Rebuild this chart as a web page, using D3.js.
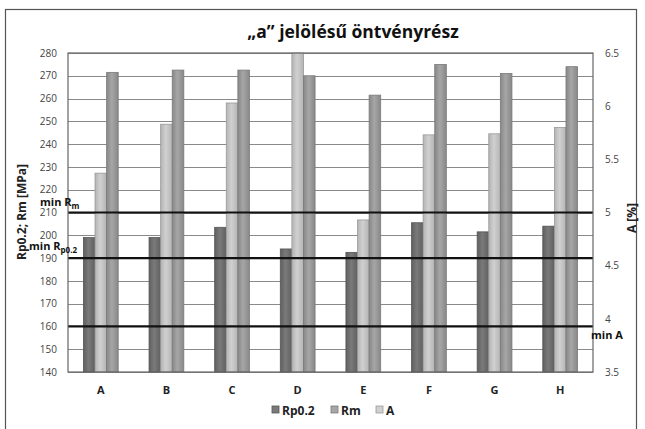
<!DOCTYPE html>
<html>
<head>
<meta charset="utf-8">
<script src="https://cdn.jsdelivr.net/npm/d3@7"></script>
<style>
  body { margin: 0; background: #fff; }
  text { font-family: "Open Sans", "Liberation Sans", sans-serif; }
</style>
</head>
<body>
<div id="chart"></div>
<script>
/* data */
var categories = ["A", "B", "C", "D", "E", "F", "G", "H"];
var rp02 = [199, 199, 203.5, 194, 192.5, 205.5, 201.5, 204];
var rm = [271.5, 272.5, 272.5, 270, 261.5, 275, 271, 274];
var aPct = [5.37, 5.83, 6.03, 6.5, 4.93, 5.73, 5.74, 5.8];
var leftTicks = [140, 150, 160, 170, 180, 190, 200, 210, 220, 230, 240, 250, 260, 270, 280];
var rightTicks = [3.5, 4, 4.5, 5, 5.5, 6, 6.5];
var seriesNames = ["Rp0.2", "Rm", "A"];
var minRm = 210, minRp = 190, minA = 160; // limit lines, on left axis

var width = 645, height = 429;
var m = {left: 68, right: 593, top: 53, bottom: 372};

var svg = d3.select("#chart").append("svg")
    .attr("width", width)
    .attr("height", height);

var fills = {"Rp0.2": "#7a7a7a", "Rm": "#a6a6a6", "A": "#d0d0d0"};
var edges = {"Rp0.2": "#606060", "Rm": "#888888", "A": "#b4b4b4"};
var strokes = {"Rp0.2": "#555", "Rm": "#7a7a7a", "A": "#999"};

// bar shading (lighter in the middle)
var defs = svg.append("defs");
seriesNames.forEach(function (k, i) {
    var g = defs.append("linearGradient").attr("id", "grad" + i)
        .attr("x1", 0).attr("x2", 1).attr("y1", 0).attr("y2", 0);
    g.append("stop").attr("offset", "0%").attr("stop-color", edges[k]);
    g.append("stop").attr("offset", "45%").attr("stop-color", fills[k]);
    g.append("stop").attr("offset", "100%").attr("stop-color", edges[k]);
});
function gradOf(k) { return "url(#grad" + seriesNames.indexOf(k) + ")"; }

// outer frame
svg.append("rect").attr("x", 5.5).attr("y", 9.5).attr("width", 631).attr("height", 430)
    .attr("fill", "none").attr("stroke", "#555").attr("stroke-width", 1.2);

var x = d3.scaleBand().domain(categories).range([m.left, m.right]).padding(0);
var bw = x.bandwidth();
// slot order in each group: Rp0.2, A, Rm
var inner = d3.scaleBand().domain(["Rp0.2", "A", "Rm"]).range([bw * 0.235, bw * 0.765]);
var y = d3.scaleLinear().domain([140, 280]).range([m.bottom, m.top]);
var y2 = d3.scaleLinear().domain([3.5, 6.5]).range([m.bottom, m.top]);

// gridlines
svg.append("g").selectAll("line").data(leftTicks).enter().append("line")
    .attr("x1", m.left).attr("x2", m.right)
    .attr("y1", function (d) { return Math.round(y(d)) + 0.5; })
    .attr("y2", function (d) { return Math.round(y(d)) + 0.5; })
    .attr("stroke", "#8a8a8a").attr("stroke-width", 1.1);

function drawBars(vals, key, scale) {
    svg.append("g").selectAll("rect").data(vals).enter().append("rect")
        .attr("x", function (d, i) { return x(categories[i]) + inner(key); })
        .attr("width", inner.bandwidth())
        .attr("y", function (d) { return scale(d); })
        .attr("height", function (d) { return m.bottom - scale(d); })
        .attr("fill", gradOf(key))
        .attr("stroke", strokes[key]).attr("stroke-width", 0.8);
}
drawBars(rp02, "Rp0.2", y);
drawBars(aPct, "A", y2);
drawBars(rm, "Rm", y);

// limit lines
svg.append("g").selectAll("line").data([minRm, minRp, minA]).enter().append("line")
    .attr("x1", m.left).attr("x2", m.right)
    .attr("y1", function (d) { return y(d); })
    .attr("y2", function (d) { return y(d); })
    .attr("stroke", "#111").attr("stroke-width", 2.2);

// plot border
svg.append("rect").attr("x", m.left).attr("y", m.top)
    .attr("width", m.right - m.left).attr("height", m.bottom - m.top)
    .attr("fill", "none").attr("stroke", "#666").attr("stroke-width", 1.2);

// left axis
var yAxis = d3.axisLeft(y).tickValues(leftTicks).tickSize(0).tickPadding(11);
var gl = svg.append("g").attr("transform", "translate(" + m.left + ",0)").call(yAxis);
gl.select(".domain").remove();
gl.selectAll("text").attr("font-size", 10).attr("fill", "#444");

// right axis
var y2Axis = d3.axisRight(y2).tickValues(rightTicks).tickSize(0).tickPadding(12)
    .tickFormat(function (d) { return String(d); });
var gr = svg.append("g").attr("transform", "translate(" + m.right + ",0)").call(y2Axis);
gr.select(".domain").remove();
gr.selectAll("text").attr("font-size", 10).attr("fill", "#444");

// x axis labels
var gx = svg.append("g").attr("transform", "translate(0," + m.bottom + ")")
    .call(d3.axisBottom(x).tickSize(0).tickPadding(14));
gx.select(".domain").remove();
gx.selectAll("text").attr("font-size", 11).attr("font-weight", "bold").attr("fill", "#222");

// title
svg.append("text").attr("x", 353).attr("y", 38).attr("text-anchor", "middle")
    .attr("font-size", 17.5).attr("font-weight", "bold").attr("fill", "#111")
    .text("\u201ea\u201d jelölésű öntvényrész");

// axis titles
svg.append("text").attr("transform", "translate(26,212) rotate(-90)")
    .attr("text-anchor", "middle").attr("font-size", 12).attr("font-weight", "bold").attr("fill", "#222")
    .text("Rp0.2; Rm [MPa]");
svg.append("text").attr("transform", "translate(636,218) rotate(-90)")
    .attr("text-anchor", "middle").attr("font-size", 12).attr("font-weight", "bold").attr("fill", "#222")
    .text("A [%]");

// limit labels
var l1 = svg.append("text").attr("x", 40).attr("y", y(minRm) - 7)
    .attr("font-size", 11).attr("font-weight", "bold").attr("fill", "#111");
l1.append("tspan").text("min R");
l1.append("tspan").attr("dy", 3).attr("font-size", 8).text("m");

var l2 = svg.append("text").attr("x", 29).attr("y", y(minRp) - 8)
    .attr("font-size", 11).attr("font-weight", "bold").attr("fill", "#111");
l2.append("tspan").text("min R");
l2.append("tspan").attr("dy", 3).attr("font-size", 8).text("p0.2");

svg.append("text").attr("x", 591).attr("y", y(minA) + 13)
    .attr("font-size", 11).attr("font-weight", "bold").attr("fill", "#111")
    .text("min A");

// legend
var legX = [272, 331, 376];
var leg = svg.append("g").selectAll("g").data(seriesNames).enter().append("g")
    .attr("transform", function (d, i) { return "translate(" + legX[i] + ",410)"; });
leg.append("rect").attr("x", 0).attr("y", -4).attr("width", 7).attr("height", 7)
    .attr("fill", function (d) { return fills[d]; })
    .attr("stroke", function (d) { return strokes[d]; }).attr("stroke-width", 0.8);
leg.append("text").attr("x", 10).attr("y", 4.5)
    .attr("font-size", 12).attr("font-weight", "bold").attr("fill", "#222")
    .text(function (d) { return d; });
</script>
</body>
</html>
